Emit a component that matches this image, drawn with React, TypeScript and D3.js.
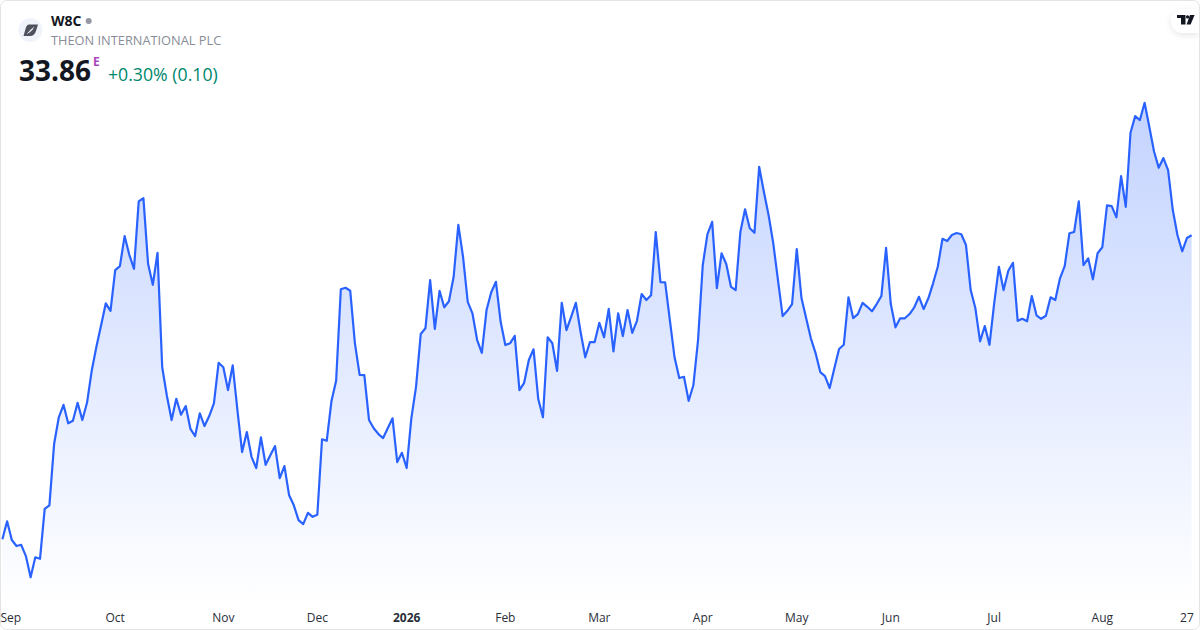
import React from "react";
import * as d3 from "d3";

const prices = [
21.70,22.42,21.67,21.43,21.48,21.03,20.18,20.98,20.92,22.92,23.06,25.51,26.58,27.08,26.34,26.44,27.16,26.47,27.16,28.44,
29.40,30.26,31.14,30.84,32.47,32.63,33.83,33.08,32.52,35.22,35.35,32.71,31.88,33.16,28.58,27.43,26.47,27.32,26.68,27.03,
26.12,25.83,26.74,26.23,26.63,27.14,28.76,28.58,27.67,28.66,26.87,25.19,25.99,25.00,24.55,25.78,24.68,25.06,25.43,24.15,
24.63,23.46,23.06,22.47,22.31,22.76,22.60,22.68,25.70,25.64,27.22,28.04,31.70,31.76,31.64,29.54,28.28,28.27,26.47,26.14,
25.91,25.75,26.15,26.54,24.79,25.16,24.55,26.54,27.80,29.91,30.14,32.07,30.12,31.64,30.98,31.22,32.20,34.28,33.00,31.20,
30.74,29.67,29.16,30.87,31.58,32.00,30.40,29.47,29.54,29.84,27.67,27.96,28.87,29.30,27.31,26.58,29.78,29.54,28.44,31.16,
30.07,30.60,31.16,30.00,28.98,29.59,29.59,30.36,29.78,30.92,29.22,30.74,29.83,30.87,29.96,30.44,31.51,31.27,31.46,33.99,
31.99,31.98,30.47,28.98,28.15,28.20,27.24,27.86,29.67,32.67,33.91,34.40,31.75,33.14,32.71,31.80,31.67,33.99,34.90,34.14,
33.96,36.60,35.60,34.67,33.54,32.07,30.63,30.84,31.11,33.31,31.35,30.54,29.74,29.15,28.39,28.23,27.75,28.54,29.31,29.48,
31.38,30.55,30.71,31.16,31.00,30.82,31.11,31.43,33.36,31.11,30.18,30.54,30.54,30.71,30.98,31.40,30.91,31.34,31.94,32.60,
33.72,33.63,33.87,33.95,33.90,33.47,31.67,30.94,29.62,30.23,29.48,31.14,32.60,31.67,32.44,32.76,30.44,30.52,30.42,31.43,
30.66,30.52,30.64,31.38,31.27,32.14,32.63,33.94,33.99,35.22,32.67,32.94,32.10,33.14,33.38,35.06,35.03,34.58,36.23,35.00,
37.96,38.63,38.47,39.16,38.20,37.22,36.56,36.95,36.47,34.87,33.86,33.22,33.75,33.86,
];

const tickLabels = ["Sep","Oct","Nov","Dec","2026","Feb","Mar","Apr","May","Jun","Jul","Aug","27"];
const tickIndexes = [2,24,47,67,86,107,127,149,169,189,211,234,252];
const boldTicks = ["2026"];

const symbol = "W8C";
const company = "THEON INTERNATIONAL PLC";
const lastPrice = "33.86";
const change = "+0.30% (0.10)";

const FONT = "'Open Sans', 'Noto Sans', sans-serif";

export default function App() {
  const x = d3.scaleLinear().domain([0, prices.length - 1]).range([2.4, 1191.6]);
  const y = d3.scaleLinear().domain([20, 40]).range([581.8, 81.8]);
  const line = d3.line<number>().x((_, i) => x(i)).y((d) => y(d));
  const area = d3.area<number>().x((_, i) => x(i)).y0(604).y1((d) => y(d));
  return (
    <svg
      width={1200}
      height={630}
      viewBox="0 0 1200 630"
      style={{ position: "fixed", left: 0, top: 0, display: "block", background: "#fff" }}
    >
      <defs>
        <linearGradient id="fill" gradientUnits="userSpaceOnUse" x1={0} x2={0} y1={102} y2={604}>
          <stop offset="0" stopColor="#2962ff" stopOpacity={0.28} />
          <stop offset="1" stopColor="#2962ff" stopOpacity={0} />
        </linearGradient>
        <filter id="shadow" x="-30%" y="-30%" width="160%" height="170%">
          <feDropShadow dx={0} dy={2} stdDeviation={3} floodColor="#000" floodOpacity={0.1} />
        </filter>
        <clipPath id="frame"><rect x={1} y={1} width={1198} height={628} rx={6} /></clipPath>
      </defs>
      <g clipPath="url(#frame)">
        <path d={area(prices) ?? ""} fill="url(#fill)" />
        <path d={line(prices) ?? ""} fill="none" stroke="#2962ff" strokeWidth={2.2} strokeLinejoin="round" />
        <path d="M1199 9 H1183 A12 12 0 0 0 1183 33 H1199 Z" fill="#fff" filter="url(#shadow)" />
        <g fill="#131722">
          <path d="M1177 15 H1185.5 V24.5 H1181 V18 H1177 Z" />
          <circle cx={1187.6} cy={16.9} r={1.7} />
          <path d="M1190 15 H1194.6 L1190.6 24.5 H1186.6 Z" />
        </g>
      </g>
      <rect x={0.5} y={0.5} width={1199} height={629} rx={6} fill="none" stroke="#e4e4e4" />

      <circle cx={30.3} cy={30} r={12} fill="#f0f3fa" />
      <path d="M29 24.5 H38 L36 31 Q34.5 36 30 36 H23.5 L25.5 29 Q26.5 24.5 29 24.5 Z" fill="#4f525c" />
      <path d="M26.5 34.5 Q30 29.5 34.5 26.5 Q33 30 29.5 32.5 Z" fill="#f0f3fa" />

      <g fontFamily={FONT}>
        <text x={51} y={26} fontSize={14} fontWeight={700} fill="#131722">{symbol}</text>
        <circle cx={88.7} cy={21} r={3} fill="#9598a1" />
        <text x={51} y={45} fontSize={12.8} fill="#8a8d96">{company}</text>
        <text x={19} y={81} fontSize={28} fontWeight={700} fill="#131722">{lastPrice}</text>
        <text x={93} y={66} fontSize={12} fontWeight={700} fill="#ab47bc">E</text>
        <text x={108} y={81} fontSize={17.7} fill="#00876c">{change}</text>
        {tickLabels.map((t, i) => (
          <text
            key={t}
            x={x(tickIndexes[i]) - (i === 0 ? 1 : 0)}
            y={622}
            textAnchor="middle"
            fontSize={12}
            fontWeight={boldTicks.includes(t) ? 700 : 400}
            fill="#2a2e39"
          >
            {t}
          </text>
        ))}
      </g>
    </svg>
  );
}
